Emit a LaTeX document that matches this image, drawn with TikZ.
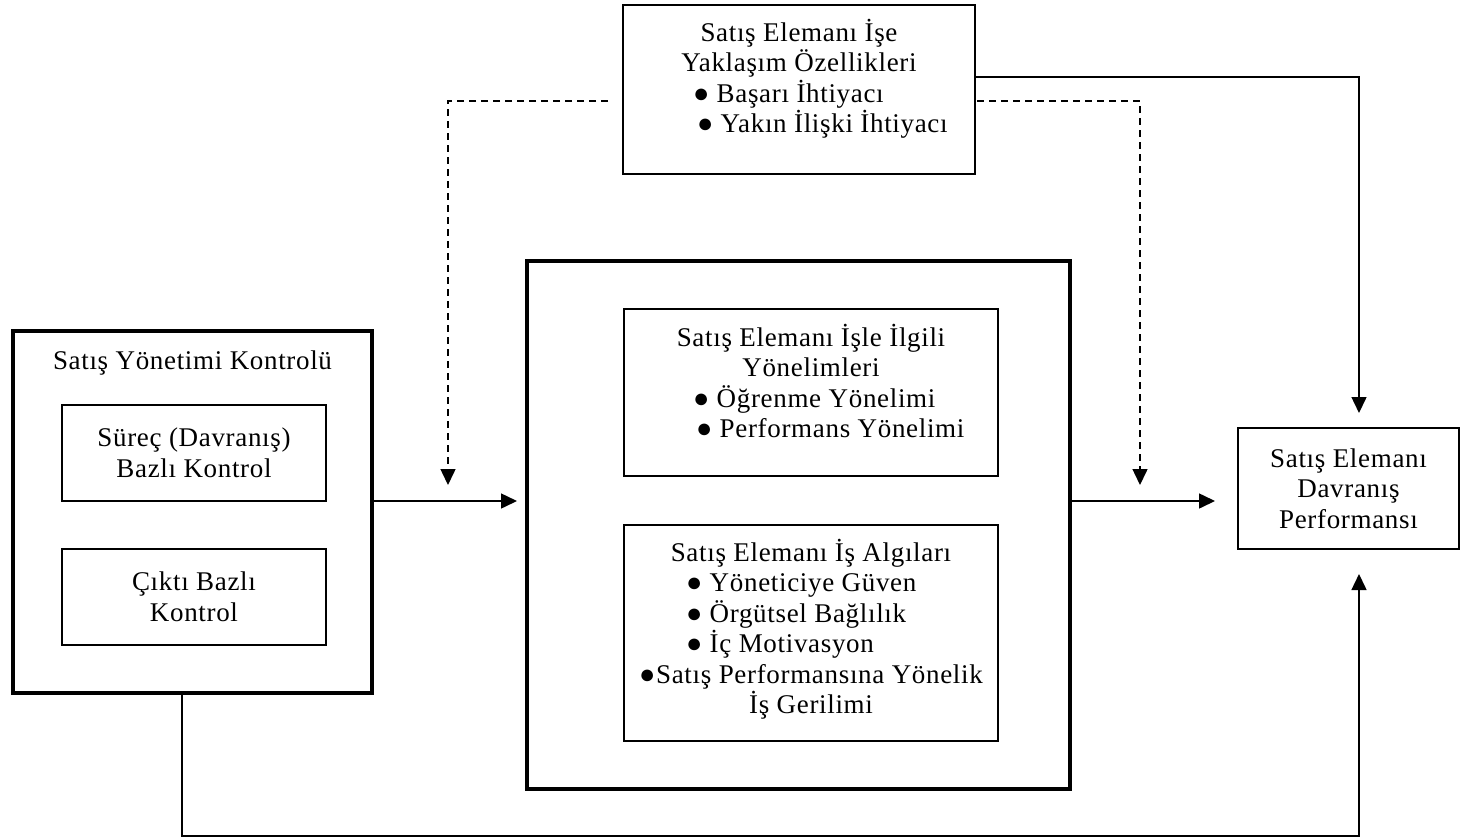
\documentclass[tikz,border=0pt]{standalone}
\usepackage{fontspec}
\setmainfont{Liberation Serif}[LetterSpace=2.5]
\usetikzlibrary{arrows.meta}
\begin{document}
\begin{tikzpicture}[x=1pt,y=-1pt,
  every node/.style={font=\fontsize{27}{30.5}\selectfont, align=center, inner sep=0pt, outer sep=0pt},
  heavybox/.style={draw, line width=4pt},
  thinbox/.style={draw, line width=1.4pt},
  link/.style={line width=1.5pt, -{Triangle[length=16pt,width=15pt]}},
  dashlink/.style={link, dash pattern=on 7pt off 5pt},
]
\useasboundingbox (0,0) rectangle (1461,838);

% rows and columns used by the connectors
\coordinate (rowA) at (0,101);
\coordinate (rowB) at (0,77);
\coordinate (rowC) at (0,501);
\coordinate (rowD) at (0,836);
\coordinate (colL) at (182,0);
\coordinate (colR) at (1359,0);
\coordinate (modL) at (448,485);
\coordinate (modR) at (1140,485);

% moderator box at the top
\node[thinbox, minimum width=352pt, minimum height=169pt] (top) at (799,89.5) {};
\node (toptext) at (799,79) {Satış Elemanı İşe\\Yaklaşım Özellikleri\\
  \makebox[212pt][l]{● Başarı İhtiyacı}\\
  \makebox[204pt][l]{● Yakın İlişki İhtiyacı}};

% sales management control
\node[heavybox, minimum width=359pt, minimum height=362pt] (ctrl) at (192.5,512) {};
\node (ctrltitle) at (192.5,363) {Satış Yönetimi Kontrolü};
\node[thinbox, minimum width=264pt, minimum height=96pt] (proc) at (194,453) {Süreç (Davranış)\\Bazlı Kontrol};
\node[thinbox, minimum width=264pt, minimum height=96pt] (outc) at (194,597) {Çıktı Bazlı\\Kontrol};

% mediating block
\node[heavybox, minimum width=543pt, minimum height=528pt] (core) at (798.5,525) {};
\node[thinbox, minimum width=374pt, minimum height=167pt] (orient) at (811,392.5) {};
\node (orienttext) at (811,381) {Satış Elemanı İşle İlgili\\Yönelimleri\\
  \makebox[236pt][l]{● Öğrenme Yönelimi}\\
  \makebox[230pt][l]{● Performans Yönelimi}};
\node[thinbox, minimum width=374pt, minimum height=216pt] (percep) at (811,633) {};
\node (perceptext) at (811,629) {Satış Elemanı İş Algıları\\
  \makebox[250pt][l]{● Yöneticiye Güven}\\
  \makebox[250pt][l]{● Örgütsel Bağlılık}\\
  \makebox[250pt][l]{● İç Motivasyon}\\
  ●Satış Performansına Yönelik\\İş Gerilimi};

% outcome
\node[thinbox, minimum width=221pt, minimum height=121pt] (perf) at (1348.5,488.5) {Satış Elemanı\\Davranış\\Performansı};

% connectors
\draw[link, shorten >=10pt] (ctrl.east |- rowC) -- (core.west |- rowC);
\draw[link, shorten >=23pt] (core.east |- rowC) -- (perf.west |- rowC);
\draw[link, shorten >=15pt] (top.east |- rowB) -| (perf.north -| colR);
\draw[link, shorten >=25pt] (ctrl.south -| colL) |- (colR |- rowD) -- (perf.south -| colR);
\draw[dashlink, shorten <=15pt] (top.west |- rowA) -| (modL);
\draw[dashlink, shorten <=2pt] (top.east |- rowA) -| (modR);
\end{tikzpicture}
\end{document}
